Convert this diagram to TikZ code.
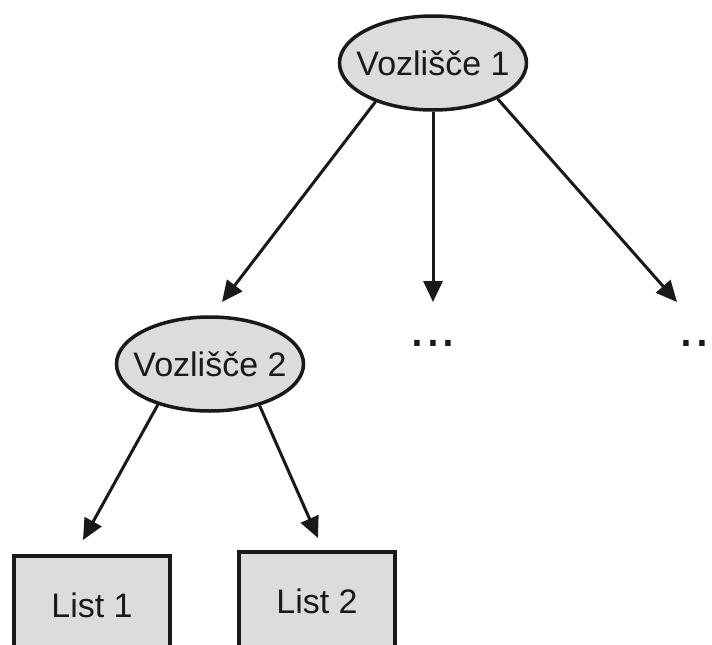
\documentclass[tikz,border=0pt]{standalone}
\usepackage{fontspec}
\setmainfont{Liberation Sans}
\usetikzlibrary{shapes.geometric,arrows.meta}
\definecolor{nodefill}{RGB}{220,220,220}
\definecolor{ink}{RGB}{25,25,25}
\tikzset{
  labelfont/.style={text=ink, font=\fontsize{34}{40}\selectfont, inner sep=0pt},
  inner/.style={ellipse, draw=ink, line width=3.5pt, fill=nodefill, minimum width=187pt, minimum height=94pt, inner sep=0pt},
  leafbox/.style={rectangle, draw=ink, line width=4.5pt, fill=nodefill, minimum width=156pt, minimum height=98pt, inner sep=0pt, labelfont},
  edge/.style={draw=ink, line width=3pt, -{Triangle[length=21pt,width=19pt]}},
  dotslabel/.style={inner sep=0pt, text=ink, font=\fontsize{57}{60}\selectfont}
}
\begin{document}
\begin{tikzpicture}[x=1pt,y=-1pt]
\useasboundingbox (0,0) rectangle (712,645);
\node[inner, label={[labelfont]center:Vozlišče 1}] (v1) at (433,63) {};
\node[inner, label={[labelfont]center:Vozlišče 2}] (v2) at (210,364) {};
\node[leafbox] (l1) at (92,605) {List 1};
\node[leafbox] (l2) at (317,601) {List 2};
\node[dotslabel, anchor=base] (d1) at (433,346) {...};
\node[dotslabel, anchor=base west] (d2) at (678,346) {...};
\coordinate (t1) at (222,302);
\coordinate (t2) at (433,302);
\coordinate (t3) at (677,302);
\coordinate (t4) at (83,540);
\coordinate (t5) at (318,538);
\draw[edge] (v1.214) -- (t1);
\draw[edge] (v1.south) -- (t2);
\draw[edge] (v1.331) -- (t3);
\draw[edge] (v2.218) -- (t4);
\draw[edge] (v2.320) -- (t5);
\end{tikzpicture}
\end{document}
